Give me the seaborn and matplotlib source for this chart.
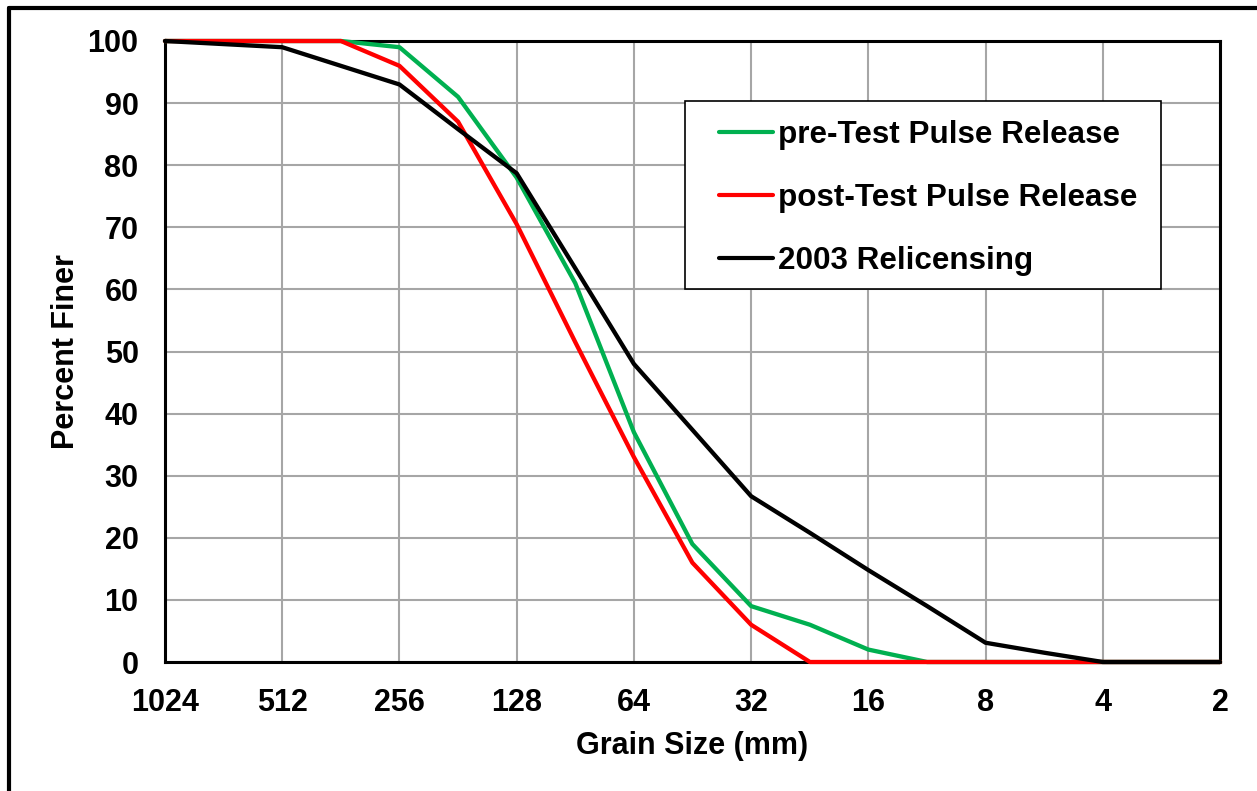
import numpy as np
import pandas as pd
import seaborn as sns
import matplotlib
matplotlib.use("Agg")
import matplotlib.pyplot as plt
from matplotlib.lines import Line2D
from matplotlib.patches import Rectangle

# ---- data ----
grain_size = [1024, 724, 512, 362, 256, 181, 128, 90.5, 64, 45.3, 32, 22.6, 16, 11.3, 8, 5.66, 4, 2.83, 2]
pre_test = [100, 100, 100, 100, 99, 91, 78, 61, 37, 19, 9, 6, 2, 0, 0, 0, 0, 0, 0]
post_test = [100, 100, 100, 100, 96, 87, 70.5, 51.5, 33, 16, 6, 0, 0, 0, 0, 0, 0, 0, 0]
relicensing = [100, 99.5, 99, 96, 93, 85.8, 78.7, 63.4, 48, 37.4, 26.7, 20.8, 14.8, 9, 3.1, 1.5, 0, 0, 0]
series_names = ["pre-Test Pulse Release", "post-Test Pulse Release", "2003 Relicensing"]
series_colors = ["#00B050", "#FF0000", "#000000"]
x_ticks = [1024, 512, 256, 128, 64, 32, 16, 8, 4, 2]
y_ticks = list(range(0, 101, 10))

df = pd.concat([
    pd.DataFrame({"size": grain_size, "pct": vals, "series": name})
    for name, vals in zip(series_names, [pre_test, post_test, relicensing])
], ignore_index=True)

sns.set_theme(style="white")
plt.rcParams["font.family"] = ["Liberation Sans", "DejaVu Sans"]
plt.rcParams["font.weight"] = "bold"
plt.rcParams["text.color"] = "black"
plt.rcParams["axes.labelcolor"] = "black"
plt.rcParams["xtick.color"] = "black"
plt.rcParams["ytick.color"] = "black"

FS = 22
W, H = 1257, 791
fig = plt.figure(figsize=(W / 100, H / 100), dpi=100)
L, R, T, B = 165, 1220, 41, 662
ax = fig.add_axes([L / W, 1 - B / H, (R - L) / W, (B - T) / H])

sns.lineplot(data=df, x="size", y="pct", hue="series", hue_order=series_names,
             palette=series_colors, linewidth=3.1, ax=ax, legend=False, sort=False,
             estimator=None)
for ln in ax.lines:
    ln.set_clip_on(False)
    ln.set_zorder(3)
    ln.set_solid_joinstyle("round")

ax.set_xscale("log", base=2)
ax.set_xlim(1024, 2)
ax.set_ylim(0, 100)
ax.set_xticks(x_ticks)
ax.set_xticklabels([str(t) for t in x_ticks])
ax.xaxis.set_minor_locator(matplotlib.ticker.NullLocator())
ax.set_yticks(y_ticks)
ax.tick_params(axis="both", length=0, labelsize=FS, pad=19, colors="black")
for lab in ax.get_xticklabels() + ax.get_yticklabels():
    lab.set_fontweight("bold")
ax.grid(True, color="#A6A6A6", linewidth=1.5)
ax.set_axisbelow(True)
for sp in ax.spines.values():
    sp.set_color("black")
    sp.set_linewidth(2.2)
    sp.set_zorder(2.5)

ax.set_xlabel("Grain Size (mm)", fontsize=FS, fontweight="bold", labelpad=9, color="black")
ax.set_ylabel("Percent Finer", fontsize=FS, fontweight="bold", labelpad=5, color="black")

# legend frame
lx0, lx1, ly0, ly1 = 685, 1161, 101, 289
ax.add_patch(Rectangle(((lx0 - L) / (R - L), (B - ly1) / (B - T)),
                       (lx1 - lx0) / (R - L), (ly1 - ly0) / (B - T),
                       transform=ax.transAxes, facecolor="white", edgecolor="black",
                       linewidth=1.2, zorder=4, clip_on=False))
handles = [Line2D([], [], color=c, linewidth=3) for c in series_colors]
leg = ax.legend(handles, series_names, loc="upper left",
                bbox_to_anchor=((719 - L) / (R - L), (B - 120) / (B - T)),
                frameon=False, borderpad=0, borderaxespad=0,
                handlelength=1.72, handletextpad=0.15, labelspacing=1.05,
                prop={"size": 22.6, "weight": "bold"})
leg.set_zorder(5)
for t in leg.get_texts():
    t.set_color("black")

# outer chart border (top and left visible)
fig.add_artist(Line2D([9 / W, 1.01], [1 - 8 / H, 1 - 8 / H], color="black", linewidth=3,
                      transform=fig.transFigure))
fig.add_artist(Line2D([9 / W, 9 / W], [-0.01, 1 - 8 / H], color="black", linewidth=3,
                      transform=fig.transFigure))

fig.savefig("out.png", dpi=100)
